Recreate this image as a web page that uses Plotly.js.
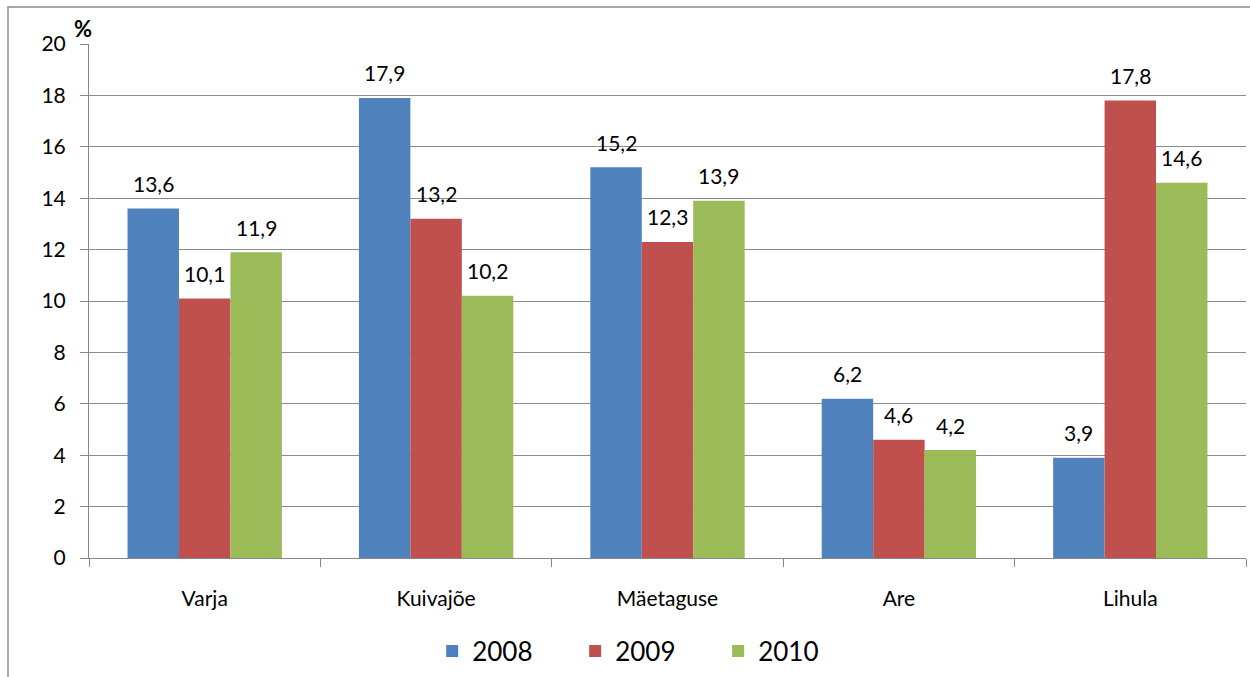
<!DOCTYPE html>
<html>
<head>
<meta charset="utf-8">
<script src="https://cdn.plot.ly/plotly-3.0.1.min.js"></script>
<style>html,body{margin:0;padding:0;background:#fff;}#chart{width:1250px;height:677px;}</style>
</head>
<body>
<div id="chart"></div>
<script>
const categories = ["Varja", "Kuivajõe", "Mäetaguse", "Are", "Lihula"];
const seriesNames = ["2008", "2009", "2010"];
const values2008 = [13.6, 17.9, 15.2, 6.2, 3.9];
const values2009 = [10.1, 13.2, 12.3, 4.6, 17.8];
const values2010 = [11.9, 10.2, 13.9, 4.2, 14.6];
const yTicks = [0, 2, 4, 6, 8, 10, 12, 14, 16, 18, 20];

const colors = ["#4F81BD", "#C0504D", "#9BBB59"];
const allValues = [values2008, values2009, values2010];
const FONT = "Lato, 'Open Sans', sans-serif";

const traces = allValues.map((vals, i) => ({
  type: "bar",
  name: seriesNames[i],
  x: categories,
  y: vals,
  marker: {color: colors[i], line: {width: 0}},
  hoverinfo: "x+y+name"
}));

const barW = 0.667 / 3;
const annotations = [];
allValues.forEach((vals, i) => {
  vals.forEach((v, j) => {
    annotations.push({
      x: j + (i - 1) * barW,
      y: v,
      xref: "x", yref: "y",
      text: v.toFixed(1).replace(".", ","),
      showarrow: false,
      yanchor: "middle",
      yshift: 25,
      font: {family: FONT, size: 21, color: "#000"}
    });
  });
});
annotations.push({
  xref: "paper", yref: "paper",
  x: -0.005, y: 1.0,
  xanchor: "center", yanchor: "bottom",
  text: "<b>%</b>", showarrow: false,
  font: {family: FONT, size: 22, color: "#000"}
});

const layout = {
  width: 1250, height: 677,
  margin: {l: 89, r: 4, t: 44, b: 119},
  paper_bgcolor: "#fff",
  plot_bgcolor: "#fff",
  barmode: "group",
  bargap: 0.333,
  bargroupgap: 0,
  font: {family: FONT, size: 21, color: "#000"},
  showlegend: true,
  legend: {
    orientation: "h",
    x: 0.482, xanchor: "center",
    yref: "container", y: 1 - 651/677, yanchor: "middle",
    font: {family: FONT, size: 26, color: "#000"},
    entrywidth: 98, entrywidthmode: "pixels",
    traceorder: "normal"
  },
  xaxis: {
    type: "category",
    showgrid: false,
    showline: true, linecolor: "#888", linewidth: 1,
    ticks: "outside", tickson: "boundaries", ticklen: 8, tickcolor: "#888",
    tickfont: {family: FONT, size: 21, color: "#000"},
    ticklabelstandoff: 22,
    fixedrange: true
  },
  yaxis: {
    range: [0, 20],
    tickvals: yTicks,
    ticktext: yTicks.map(String),
    showgrid: true, gridcolor: "#8c8c8c", gridwidth: 1,
    showline: true, linecolor: "#888", linewidth: 1,
    ticks: "outside", ticklen: 8, tickcolor: "#888",
    tickfont: {family: FONT, size: 21, color: "#000"},
    ticklabelstandoff: 10,
    zeroline: false,
    fixedrange: true
  },
  annotations: annotations,
  shapes: [{
    type: "rect", xref: "paper", yref: "paper",
    x0: (8 - 89) / 1157, x1: 1.02,
    y0: -0.3, y1: (558 - 7) / 514,
    line: {color: "#8c8c8c", width: 1.5},
    fillcolor: "rgba(0,0,0,0)",
    layer: "below"
  }]
};

Plotly.newPlot("chart", traces, layout, {displayModeBar: false, staticPlot: true});
</script>
</body>
</html>
